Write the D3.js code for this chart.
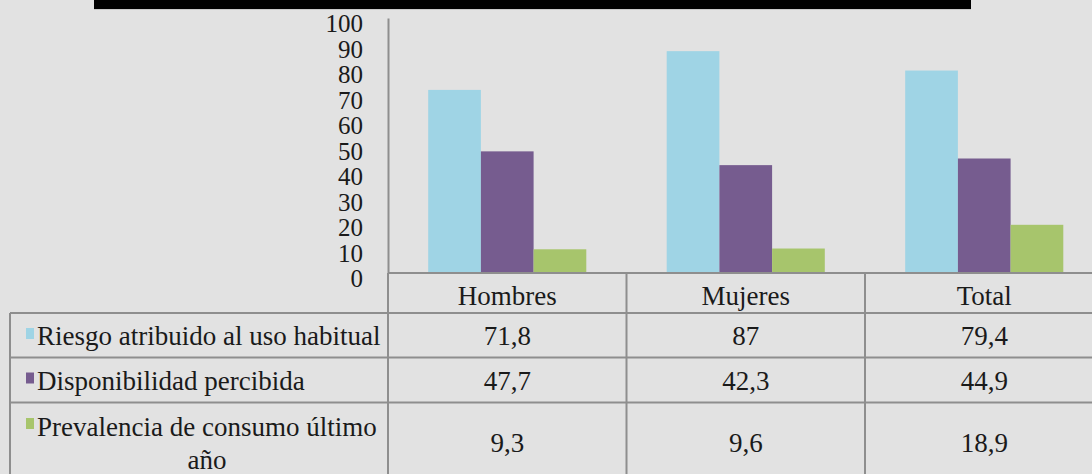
<!DOCTYPE html>
<html>
<head>
<meta charset="utf-8">
<script src="https://cdn.jsdelivr.net/npm/d3@7"></script>
<style>
  html, body { margin: 0; padding: 0; background: #e2e2e2; overflow: hidden; }
  svg { display: block; }
  text { font-family: "Liberation Serif", "Times New Roman", serif; fill: #1a1a1a; }
</style>
</head>
<body>
<svg id="chart" width="1092" height="474"></svg>
<script>
const categories = ["Hombres", "Mujeres", "Total"];
const seriesNames = ["Riesgo atribuido al uso habitual", "Disponibilidad percibida", "Prevalencia de consumo último año"];
const riesgo = [71.8, 87, 79.4];
const disponibilidad = [47.7, 42.3, 44.9];
const prevalencia = [9.3, 9.6, 18.9];
const yTicks = [0, 10, 20, 30, 40, 50, 60, 70, 80, 90, 100];
const colors = ["#9fd4e5", "#765c8f", "#a7c56c"];

const seriesValues = [riesgo, disponibilidad, prevalencia];
const fmt = v => String(v).replace(".", ",");

const svg = d3.select("#chart");
const W = 1092, H = 474;
const axisX = 388, baseY = 273, topY = 18, bandW = 238.5;
const lineColor = "#8e8e8e";
const fs = 27;

// title bar (top, mostly cut off)
svg.append("rect").attr("x", 94).attr("y", -2).attr("width", 877).attr("height", 11).attr("fill", "#000");
svg.append("line").attr("x1", 94).attr("x2", 971).attr("y1", 9.5).attr("y2", 9.5).attr("stroke", "#c8c8c8").attr("stroke-width", 1);

const x = d3.scaleBand().domain(categories).range([axisX, axisX + bandW * categories.length]).paddingInner(0).paddingOuter(0);
const xs = d3.scaleBand().domain(d3.range(seriesNames.length)).range([0, x.bandwidth()]).paddingInner(0).paddingOuter(0.763);
const y = d3.scaleLinear().domain([0, 100]).range([baseY, topY]);

// bars
const groups = svg.append("g").selectAll("g").data(categories).join("g")
  .attr("transform", d => `translate(${x(d)},0)`);
groups.selectAll("rect").data((c, ci) => seriesValues.map((vals, si) => ({si, v: vals[ci]})))
  .join("rect")
  .attr("x", d => xs(d.si))
  .attr("width", xs.bandwidth())
  .attr("y", d => y(d.v))
  .attr("height", d => baseY - y(d.v))
  .attr("fill", d => colors[d.si]);

// y axis
const yAxis = d3.axisLeft(y).tickValues(yTicks).tickSize(0).tickSizeOuter(0).tickPadding(25).tickFormat(d3.format("d"));
const ga = svg.append("g").attr("transform", `translate(${axisX},0)`).call(yAxis);
ga.select(".domain").attr("stroke", lineColor).attr("stroke-width", 2);
ga.selectAll("text").attr("font-size", 25).attr("font-family", "Liberation Serif").attr("fill", "#1a1a1a").attr("dy", "0.55em");

// table
const tbl = svg.append("g");
const right = W + 20;
tbl.append("line").attr("x1", axisX).attr("x2", right).attr("y1", baseY).attr("y2", baseY).attr("stroke", lineColor).attr("stroke-width", 2);
[313, 357.5, 402.5].forEach(yy => {
  tbl.append("line").attr("x1", 10).attr("x2", right).attr("y1", yy).attr("y2", yy).attr("stroke", lineColor).attr("stroke-width", 2);
});
tbl.append("line").attr("x1", 10).attr("x2", 10).attr("y1", 313).attr("y2", H + 10).attr("stroke", lineColor).attr("stroke-width", 2);
tbl.append("line").attr("x1", axisX).attr("x2", axisX).attr("y1", baseY).attr("y2", H + 10).attr("stroke", lineColor).attr("stroke-width", 2);
categories.forEach(c => {
  const xx = x(c) + x.bandwidth();
  tbl.append("line").attr("x1", xx).attr("x2", xx).attr("y1", baseY).attr("y2", H + 10).attr("stroke", lineColor).attr("stroke-width", 2);
});

// header
tbl.selectAll("text.hdr").data(categories).join("text").attr("class", "hdr")
  .attr("x", d => x(d) + x.bandwidth() / 2).attr("y", 296).attr("dy", "0.35em")
  .attr("text-anchor", "middle").attr("font-size", fs).text(d => d);

// row labels
const rowCenters = [336, 380.5, 443];
seriesNames.forEach((name, i) => {
  const cy = rowCenters[i];
  if (i < 2) {
    tbl.append("rect").attr("x", 26).attr("y", cy - 8).attr("width", 8).attr("height", 11).attr("fill", colors[i]);
    tbl.append("text").attr("x", 37).attr("y", cy).attr("dy", "0.35em").attr("font-size", fs).text(name);
  } else {
    const words = name.split(" ");
    const l1 = words.slice(0, -1).join(" ");
    const l2 = words[words.length - 1];
    tbl.append("rect").attr("x", 26).attr("y", 427 - 9).attr("width", 8).attr("height", 11).attr("fill", colors[i]);
    tbl.append("text").attr("x", 37).attr("y", 427).attr("dy", "0.35em").attr("font-size", fs).text(l1);
    tbl.append("text").attr("x", 207).attr("y", 460).attr("dy", "0.35em").attr("text-anchor", "middle").attr("font-size", fs).text(l2);
  }
  tbl.selectAll(null).data(categories).join("text")
    .attr("x", d => x(d) + x.bandwidth() / 2).attr("y", cy).attr("dy", "0.35em")
    .attr("text-anchor", "middle").attr("font-size", fs)
    .text((d, ci) => fmt(seriesValues[i][ci]));
});
</script>
</body>
</html>
